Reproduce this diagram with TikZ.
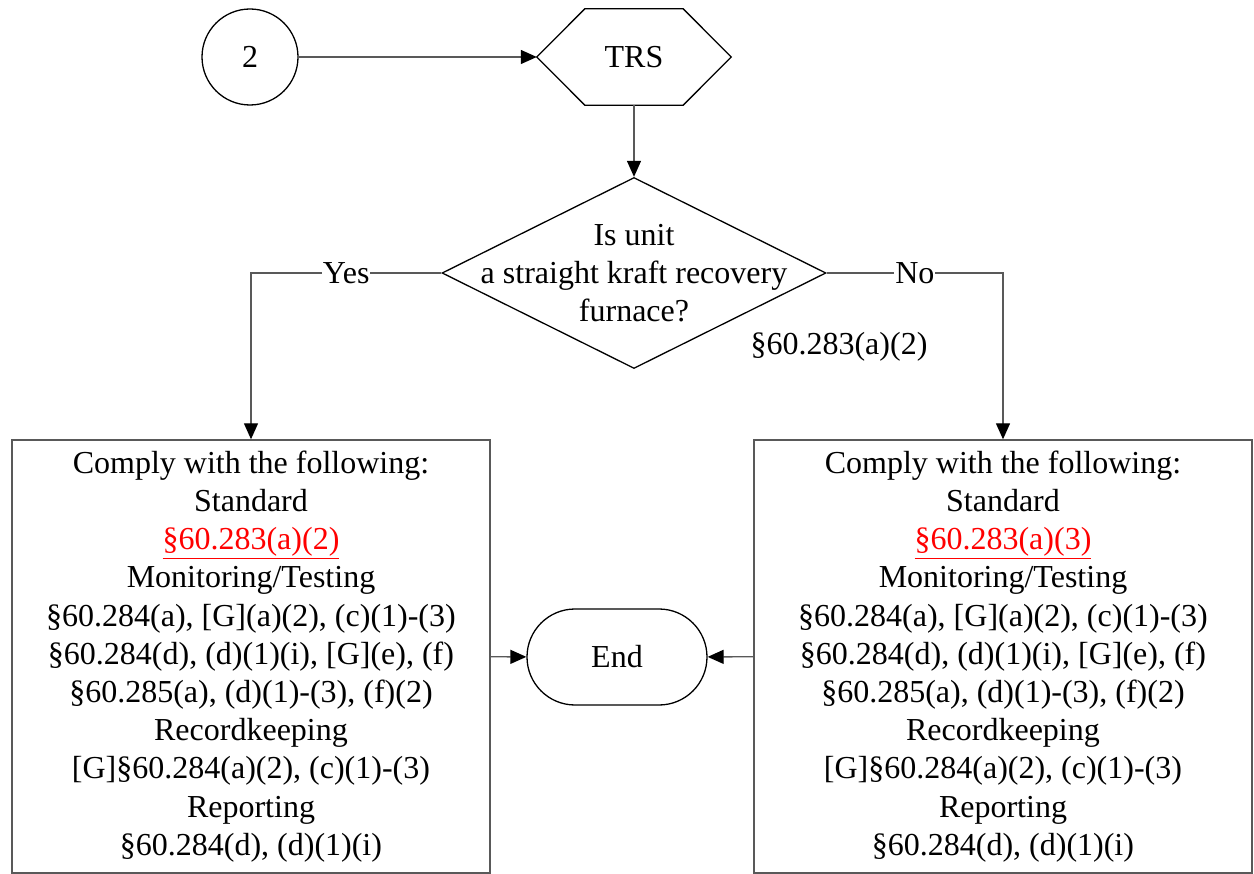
\documentclass[tikz,border=0pt]{standalone}
\usepackage{fontspec}
\setmainfont{Liberation Serif}
\usetikzlibrary{shapes.geometric,shapes.misc,arrows.meta}

\begin{document}
\begin{tikzpicture}[x=1pt,y=-1pt,
	every node/.style={font=\fontsize{32}{38.2}\selectfont},
	outline/.style={draw=black,line width=1.3pt},
	flow/.style={draw=black!65,line width=1.3pt,-{Triangle[length=16pt,width=14pt,color=black]}},
	rulebox/.style={rectangle,draw=black!65,line width=1.4pt,minimum width=478,minimum height=433,align=center,inner sep=0pt}]
	\useasboundingbox (0,0) rectangle (1254,874);

	\node (two) at (250,57) [circle,outline,minimum size=96,inner sep=0pt] {2};
	\node (trs) at (634,57) [rectangle,minimum width=194,minimum height=96,inner sep=0pt] {TRS};
	\draw[outline] (trs.west) -- ([xshift=48pt]trs.north west) -- ([xshift=-48pt]trs.north east) -- (trs.east) -- ([xshift=-48pt]trs.south east) -- ([xshift=48pt]trs.south west) -- cycle;

	\node (q) at (634,273) [diamond,outline,minimum width=384,minimum height=191,inner sep=0pt] {};
	\node [align=center] at (q.center) {Is unit\\a straight kraft recovery\\furnace?};
	\node (cite) at (839,347) {§60.283(a)(2)};

	\node (lbox) at (251,656.5) [rulebox] {Comply with the following:\\Standard\\\textcolor{red}{\underline{§60.283(a)(2)}}\\Monitoring/Testing\\§60.284(a), [G](a)(2), (c)(1)-(3)\\§60.284(d), (d)(1)(i), [G](e), (f)\\§60.285(a), (d)(1)-(3), (f)(2)\\Recordkeeping\\{[G]}§60.284(a)(2), (c)(1)-(3)\\Reporting\\§60.284(d), (d)(1)(i)};
	\node (rbox) at (1003,656.5) [rulebox,minimum width=498] {Comply with the following:\\Standard\\\textcolor{red}{\underline{§60.283(a)(3)}}\\Monitoring/Testing\\§60.284(a), [G](a)(2), (c)(1)-(3)\\§60.284(d), (d)(1)(i), [G](e), (f)\\§60.285(a), (d)(1)-(3), (f)(2)\\Recordkeeping\\{[G]}§60.284(a)(2), (c)(1)-(3)\\Reporting\\§60.284(d), (d)(1)(i)};

	\node (end) at (617,657) [rounded rectangle,outline,minimum width=180,minimum height=96,inner sep=0pt] {End};

	\draw[flow] (two) -- (trs);
	\draw[flow] (trs) -- (q);
	\draw[flow] (q.west) -| node[pos=0.25,fill=white,inner sep=1pt] {Yes} (lbox.north);
	\draw[flow] (q.east) -| node[pos=0.25,fill=white,inner sep=1pt] {No} (rbox.north);
	\draw[flow] (lbox) -- (end);
	\draw[flow] (rbox) -- (end);
\end{tikzpicture}
\end{document}
